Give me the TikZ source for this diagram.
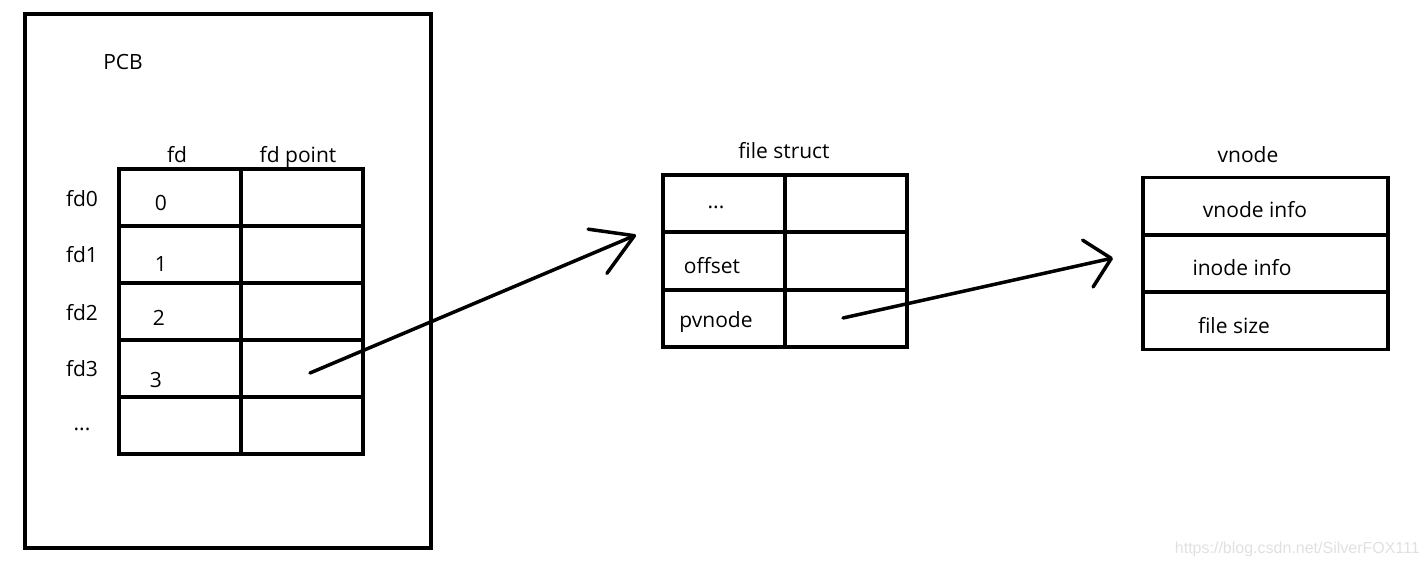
\documentclass[tikz,border=0pt]{standalone}
\usepackage{fontspec}
\setmainfont{Open Sans}
\newfontfamily\wmfont{Liberation Sans}
\usetikzlibrary{positioning, arrows.meta}

\begin{document}
\begin{tikzpicture}[x=1pt, y=-1pt,
  cell/.style={rectangle, draw, line width=3.5pt, minimum width=122pt, minimum height=57pt, inner sep=0pt},
  frame/.style={rectangle, draw, line width=4pt, minimum width=406pt, minimum height=534pt, inner sep=0pt},
  lbl/.style={font=\fontsize{21}{25}\selectfont, inner sep=0pt, anchor=base},
  ptr/.style={line width=3.5pt, line cap=round, -{Straight Barb[length=#1, width=48pt, round]}}
]
\useasboundingbox (0,0) rectangle (1427,565);

% PCB
\node[frame] (pcb) at (228,281) {};
\node[lbl] (pcbname) at (123,69) {PCB};

% fd table
\foreach \i in {0,...,4} {
  \node[cell] (f\i) at (180,{197.5+57*\i}) {};
  \node[cell] (p\i) at (302,{197.5+57*\i}) {};
}
\node[lbl] (fdhead) at (177,162) {fd};
\node[lbl] (pthead) at (298,162) {fd point};
\node[lbl] (fd0) at (82,206) {fd0};
\node[lbl] (fd1) at (82,262) {fd1};
\node[lbl] (fd2) at (82,320) {fd2};
\node[lbl] (fd3) at (82,376) {fd3};
\node[lbl] (fdmore) at (82,430) {...};
\node[lbl] (n0) at (161,210) {0};
\node[lbl] (n1) at (161,271) {1};
\node[lbl] (n2) at (159,325) {2};
\node[lbl] (n3) at (156,387) {3};

% file struct
\foreach \i in {0,1,2} {
  \node[cell] (s\i) at (724,{203.5+57.5*\i}) {};
  \node[cell] (v\i) at (846,{203.5+57.5*\i}) {};
}
\node[lbl] (fsname) at (784,158) {file struct};
\node[lbl] (fsmore) at (716,208) {...};
\node[lbl] (offset) at (712,273) {offset};
\node[lbl] (pvnode) at (716,327) {pvnode};

% vnode
\foreach \i in {0,1,2} {
  \node[cell, minimum width=245pt] (vn\i) at (1265.5,{206+57.5*\i}) {};
}
\node[lbl] (vnname) at (1248,162) {vnode};
\node[lbl] (vninfo) at (1255,217) {vnode info};
\node[lbl] (ininfo) at (1242,275) {inode info};
\node[lbl] (fsize) at (1234,333) {file size};

% pointers
\coordinate (fdptr) at (310,373);
\coordinate (fsin) at (636,235);
\coordinate (vnptr) at (843,318);
\coordinate (vnin) at (1113,258);
\draw[ptr=40pt] (fdptr) -- (fsin);
\draw[ptr=24pt] (vnptr) -- (vnin);

\node[font=\wmfont\fontsize{16}{19}\selectfont, text=black!12, anchor=base east, inner sep=0pt] (wm) at (1420,553) {https://blog.csdn.net/SilverFOX111};
\end{tikzpicture}
\end{document}
